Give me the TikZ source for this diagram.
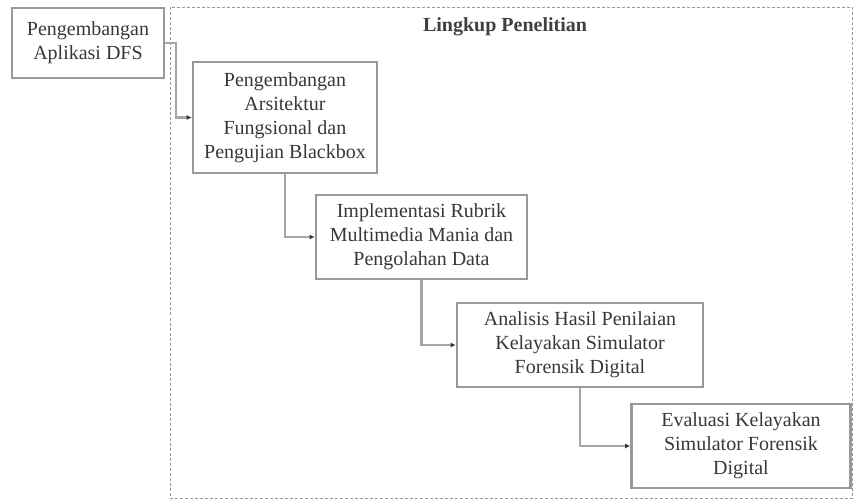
\documentclass[tikz,border=0pt]{standalone}
\usepackage{fontspec}
\setmainfont{Liberation Serif}
\usetikzlibrary{arrows.meta,positioning}

\begin{document}
\begin{tikzpicture}[x=1pt,y=-1pt,
		box/.style={draw=black!40,line width=2.6pt,fill=white,align=center,
			inner sep=0pt,text=black!78,font=\fontsize{20}{24}\selectfont},
		link/.style={draw=black!35,line width=2.2pt,
			-{Latex[length=5pt,width=5pt,black!80]}},
		scopebox/.style={draw=black!40,line width=1pt,dash pattern=on 3pt off 2pt}]

		\useasboundingbox (0,0) rectangle (853,502);
		\draw[scopebox] (170,7.5) rectangle (852,498);
		\node[font=\fontsize{20}{24}\selectfont\bfseries,text=black!75] (title) at (505,27) {Lingkup Penelitian};

		\node[box,minimum width=152pt,minimum height=70pt] (dfs) at (88,43) {Pengembangan\\Aplikasi DFS};
		\node[box,minimum width=184pt,minimum height=111pt] (arsi) at (285,117.5) {Pengembangan\\Arsitektur\\Fungsional dan\\Pengujian Blackbox};
		\node[box,minimum width=211pt,minimum height=84pt] (rubrik) at (421.5,237) {Implementasi Rubrik\\Multimedia Mania dan\\Pengolahan Data};
		\node[box,minimum width=246pt,minimum height=84pt] (analisis) at (580,345) {Analisis Hasil Penilaian\\Kelayakan Simulator\\Forensik Digital};
		\node[box,minimum width=219pt,minimum height=84pt] (evaluasi) at (741,446) {Evaluasi Kelayakan\\Simulator Forensik\\Digital};

		\draw[link] (dfs.east) -- ++(11,0) |- (arsi.west);
		\draw[link] (arsi.south) |- (rubrik.west);
		\draw[link] (rubrik.south) |- (analisis.west);
		\draw[link] (analisis.south) |- (evaluasi.west);
	\end{tikzpicture}
\end{document}
